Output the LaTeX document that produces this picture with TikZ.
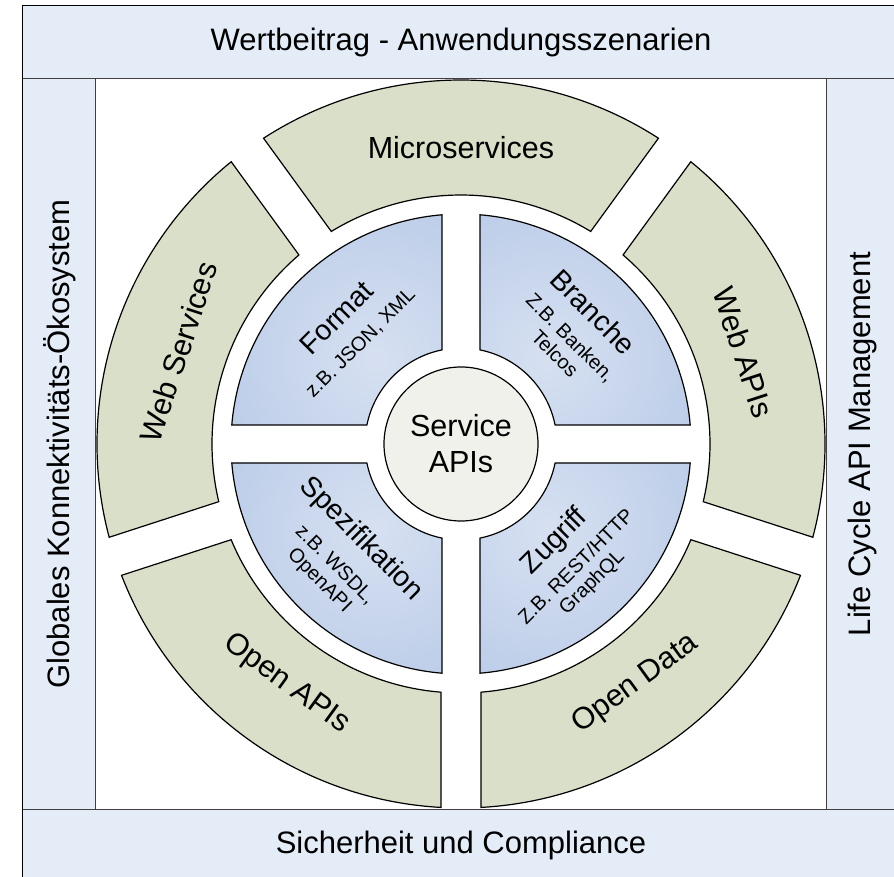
\documentclass[tikz,border=0pt]{standalone}
\usepackage{fontspec}
\setmainfont{Liberation Sans}
\definecolor{bandfill}{HTML}{E4ECF7}
\definecolor{ringfill}{HTML}{D9DFC8}
\definecolor{quadout}{HTML}{A9BEE2}
\definecolor{quadin}{HTML}{D6E0F1}
\definecolor{hubfill}{HTML}{F0F1EA}
\definecolor{divline}{HTML}{404040}
\begin{document}
\begin{tikzpicture}[x=1pt,y=1pt,
  bandtxt/.style={font=\fontsize{31}{36}\selectfont, inner sep=0pt},
  bigtxt/.style={font=\fontsize{30.5}{36}\selectfont, inner sep=0pt, align=center},
  qtitle/.style={font=\fontsize{28.5}{34}\selectfont, inner sep=0pt},
  qsub/.style={font=\fontsize{20}{22}\selectfont, inner sep=0pt, align=center},
  ringseg/.style={draw=black, line width=1.2pt, fill=ringfill},
  quadseg/.style={draw=black, line width=1.2pt},
  hubstyle/.style={circle, draw=black, line width=1.2pt, fill=hubfill, minimum size=154pt, inner sep=0pt, align=center, font=\fontsize{30.5}{36}\selectfont}
]
\useasboundingbox (-461,-433) rectangle (433,444);
% frame and bands
\fill[bandfill] (-438,-440) rectangle (440,438);
\fill[white] (-365,-365) rectangle (365,365);
\draw[black, line width=1pt] (-438,-440) -- (-438,438) -- (440,438);
\draw[divline, line width=1pt] (-438,365) -- (440,365);
\draw[divline, line width=1pt] (-438,-365) -- (440,-365);
\draw[divline, line width=1pt] (-365,365) -- (-365,-365);
\draw[divline, line width=1pt] (365,365) -- (365,-365);
\node[bandtxt] (topband) at (0,401.5) {Wertbeitrag - Anwendungsszenarien};
\node[bandtxt] (botband) at (0,-401.5) {Sicherheit und Compliance};
\node[bandtxt, rotate=90] (leftband) at (-401.5,0) {Globales Konnektivitäts-Ökosystem};
\node[bandtxt, rotate=90] (rightband) at (401.5,0) {Life Cycle API Management};
% outer ring segments
\foreach \a/\b in {-18/54, 54/126, 126/198, 198/270, 270/342}{
  \path[ringseg] ({\a+3.150}:364) arc[start angle={\a+3.150}, end angle={\b-3.150}, radius=364]
    -- ({\b-4.607}:249) arc[start angle={\b-4.607}, end angle={\a+4.607}, radius=249] -- cycle;
}
% inner quadrants
\foreach \a in {0,90,180,270}{
  \path[quadseg, path picture={\shade[inner color=quadin, outer color=quadout] ({\a+45}:120) circle (290);}]
    ({\a+4.739}:230) arc[start angle={\a+4.739}, end angle={\a+90-4.739}, radius=230]
    -- ({\a+90-11.415}:96) arc[start angle={\a+90-11.415}, end angle={\a+11.415}, radius=96] -- cycle;
}
% hub
\node[hubstyle] (hub) at (0,0) {Service\\APIs};
% ring labels
\node[bigtxt] (micro) at (90:296) {Microservices};
\node[bigtxt, rotate=72] (websvc) at (162:297) {Web Services};
\node[bigtxt, rotate=-72] (webapi) at (18:297) {Web APIs};
\node[bigtxt, rotate=-36] (openapi) at (234:297) {Open APIs};
\node[bigtxt, rotate=36] (opendata) at (306:297) {Open Data};
% quadrant labels
\node[qtitle, rotate=45] (format) at (-124.3,126.5) {Format};
\node[qsub, rotate=45] (formatsub) at (-100.2,100.7) {z.B. JSON, XML};
\node[qtitle, rotate=-45] (branche) at (132.3,132.3) {Branche};
\node[qsub, rotate=-45] (branchesub) at (102,98.5) {Z.B. Banken,\\Telcos};
\node[qtitle, rotate=-45] (spez) at (-100,-95) {Spezifikation};
\node[qsub, rotate=-45] (spezsub) at (-134.2,-129) {z.B. WSDL,\\OpenAPI};
\node[qtitle, rotate=45] (zugriff) at (94,-97.7) {Zugriff};
\node[qsub, rotate=45] (zugriffsub) at (123.6,-131) {Z.B. REST/HTTP\\GraphQL};
\end{tikzpicture}
\end{document}
